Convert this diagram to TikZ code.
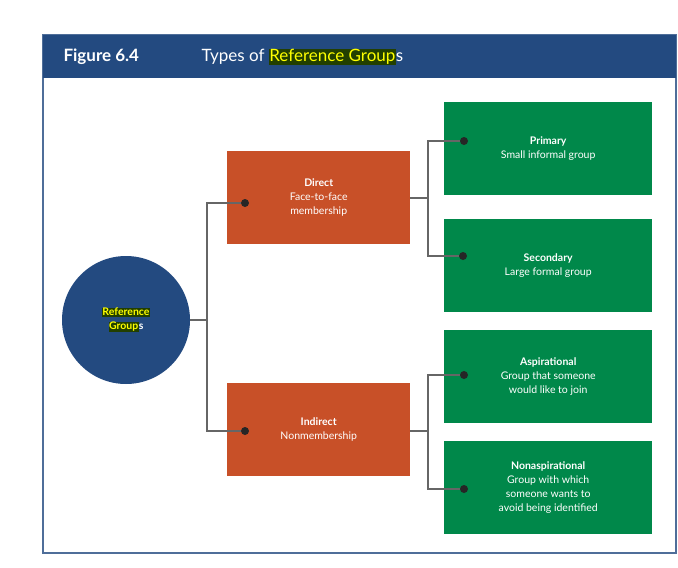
\documentclass[tikz,border=0pt]{standalone}
\usepackage{fontspec}
\setmainfont{Lato}
\definecolor{navy}{HTML}{234A80}
\definecolor{rust}{HTML}{C85028}
\definecolor{grn}{HTML}{00884A}
\definecolor{hlbg}{HTML}{223F00}
\definecolor{hlfg}{HTML}{FFFF00}
\newcommand{\hl}[1]{{\setlength{\fboxsep}{0.5pt}\colorbox{hlbg}{\textcolor{hlfg}{#1}}}}
\begin{document}
\begin{tikzpicture}[x=1pt,y=-1pt,
  box/.style={draw=none,minimum width=183pt,minimum height=93pt,align=center,text=white,font=\fontsize{10.5}{14}\selectfont,inner sep=0},
  gbox/.style={draw=none,fill=grn,minimum width=208pt,minimum height=93pt,align=center,text=white,font=\fontsize{10.5}{14}\selectfont,inner sep=0},
  conn/.style={draw=black!60,line width=1.2pt},
  dot/.style={circle,fill=black!85,inner sep=0,minimum size=8pt}]
\useasboundingbox (0,0) rectangle (678,568);
\draw[draw=navy!80,line width=1.2pt] (43,35) rectangle (676,553);
\fill[navy] (43,35) rectangle (676,78);
\node[anchor=west,text=white,font=\fontsize{17}{20}\selectfont\bfseries] (fig) at (60,57) {Figure 6.4};
\node[anchor=west,text=white,font=\fontsize{17}{20}\selectfont] (ttl) at (198,57) {Types of \hl{Reference Group}s};
\node[circle,fill=navy,minimum size=128pt,inner sep=0,align=center,text=white,font=\fontsize{10.5}{14}\selectfont\bfseries] (rg) at (126,320) {\hl{Reference}\\\hl{Group}s};
\node[box,fill=rust,anchor=north west] (dir) at (227,151) {\textbf{Direct}\\Face-to-face\\membership};
\node[box,fill=rust,anchor=north west] (ind) at (227,383) {\textbf{Indirect}\\Nonmembership};
\node[gbox,anchor=north west,yshift=-8pt] (pri) at (444,94) {\textbf{Primary}\\Small informal group};
\node[gbox,anchor=north west,yshift=-8pt] (sec) at (444,211) {\textbf{Secondary}\\Large formal group};
\node[gbox,anchor=north west,yshift=-4pt] (asp) at (444,326) {\textbf{Aspirational}\\Group that someone\\would like to join};
\node[gbox,anchor=north west] (non) at (444,441) {\textbf{Nonaspirational}\\Group with which\\someone wants to\\avoid being identified};
\node[dot] (d1) at (245,203) {};
\node[dot] (d2) at (245,431) {};
\node[dot] (d3) at (464,141) {};
\node[dot] (d4) at (463,256) {};
\node[dot] (d5) at (464,375) {};
\node[dot] (d6) at (464,489) {};
\coordinate (j1) at (207,320);
\coordinate (j2) at (428,198);
\coordinate (j3) at (428,431);
\draw[conn] (rg.east) -- (j1);
\draw[conn] (d1) -| (j1) |- (d2);
\draw[conn] (dir.east |- j2) -- (j2);
\draw[conn] (d3) -| (j2) |- (d4);
\draw[conn] (ind.east |- j3) -- (j3);
\draw[conn] (d5) -| (j3) |- (d6);
\end{tikzpicture}
\end{document}
